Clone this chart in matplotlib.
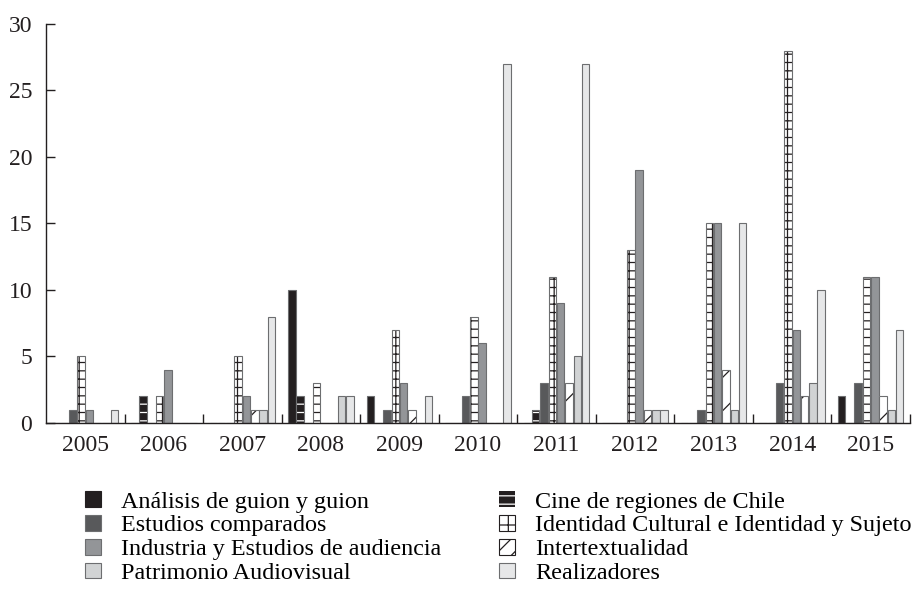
import numpy as np
import matplotlib
matplotlib.use("Agg")
import matplotlib.pyplot as plt
from matplotlib.patches import Patch

years = ["2005", "2006", "2007", "2008", "2009", "2010", "2011", "2012", "2013", "2014", "2015"]

analisis = [0, 0, 0, 10, 2, 0, 0, 0, 0, 0, 2]
cine_regiones = [0, 2, 0, 2, 0, 0, 1, 0, 0, 0, 0]
estudios_comparados = [1, 0, 0, 0, 1, 2, 3, 0, 1, 3, 3]
identidad = [5, 2, 5, 3, 7, 8, 11, 13, 15, 28, 11]
industria = [1, 4, 2, 0, 3, 6, 9, 19, 15, 7, 11]
intertextualidad = [0, 0, 1, 0, 1, 0, 3, 1, 4, 2, 2]
patrimonio = [0, 0, 1, 2, 0, 0, 5, 1, 1, 3, 1]
realizadores = [1, 0, 8, 2, 2, 27, 27, 1, 15, 10, 7]

names = ["Análisis de guion y guion", "Cine de regiones de Chile", "Estudios comparados",
         "Identidad Cultural e Identidad y Sujeto", "Industria y Estudios de audiencia",
         "Intertextualidad", "Patrimonio Audiovisual", "Realizadores"]
series = [analisis, cine_regiones, estudios_comparados, identidad, industria,
          intertextualidad, patrimonio, realizadores]

# face colour, hatch, hatch colour
styles = [
    ("#231f20", None, None),
    ("#231f20", "--", "white"),
    ("#58595b", None, None),
    ("white", "++", "#231f20"),
    ("#939598", None, None),
    ("white", "/", "#231f20"),
    ("#d1d3d4", None, None),
    ("#e6e7e8", None, None),
]
edge = "#6d6e70"

plt.rcParams["font.family"] = ["Liberation Serif", "DejaVu Serif"]
plt.rcParams["hatch.linewidth"] = 0.9

fig = plt.figure(figsize=(9.16, 5.92), dpi=100)
ax = fig.add_axes([0.0502, 0.2855, 0.9432, 0.674])

x = np.arange(len(years))
slot = 0.1057
width = 0.095
for i, vals in enumerate(series):
    face, hatch, hcol = styles[i]
    pos = x + (i - 3.5) * slot
    if hatch:
        ax.bar(pos, vals, width=width, color=face, hatch=hatch, edgecolor=hcol, linewidth=0)
        ax.bar(pos, vals, width=width, fill=False, edgecolor=edge, linewidth=0.8)
    else:
        ax.bar(pos, vals, width=width, color=face, edgecolor=edge, linewidth=0.8)

ax.set_xlim(-0.5, len(years) - 0.5)
ax.set_ylim(0, 30)
ax.set_yticks(range(0, 31, 5))
ax.set_xticks(x)
ax.set_xticklabels(years)
ax.set_xticks(np.arange(0.5, len(years), 1.0), minor=True)
ax.tick_params(axis="x", which="major", length=0, labelsize=17, pad=9, colors="#231f20")
ax.tick_params(axis="x", which="minor", direction="in", length=6.5, width=1, color="#231f20")
ax.tick_params(axis="y", direction="in", length=6.5, width=1, labelsize=17, pad=10,
               colors="#231f20")
for s in ["top", "right"]:
    ax.spines[s].set_visible(False)
for s in ["left", "bottom"]:
    ax.spines[s].set_color("#231f20")
    ax.spines[s].set_linewidth(1)

handles = [
    Patch(facecolor="#231f20", edgecolor="#231f20", linewidth=0.8),
    Patch(facecolor="#231f20", edgecolor="white", hatch="--", linewidth=0),
    Patch(facecolor="#58595b", edgecolor=edge, linewidth=0.8),
    Patch(facecolor="white", edgecolor="#231f20", hatch="+", linewidth=0.8),
    Patch(facecolor="#939598", edgecolor=edge, linewidth=0.8),
    Patch(facecolor="white", edgecolor="#231f20", hatch="//", linewidth=0.8),
    Patch(facecolor="#d1d3d4", edgecolor=edge, linewidth=0.8),
    Patch(facecolor="#e6e7e8", edgecolor=edge, linewidth=0.8),
]
order = [0, 2, 4, 6, 1, 3, 5, 7]
fig.legend([handles[k] for k in order], [names[k] for k in order],
           loc="upper left", bbox_to_anchor=(0.093, 0.170), ncol=2,
           frameon=False, fontsize=17.4, handlelength=0.66, handleheight=0.62,
           handletextpad=0.83, labelspacing=0.1, columnspacing=2.4,
           borderaxespad=0, borderpad=0, bbox_transform=fig.transFigure)

fig.savefig("out.png", dpi=100)
